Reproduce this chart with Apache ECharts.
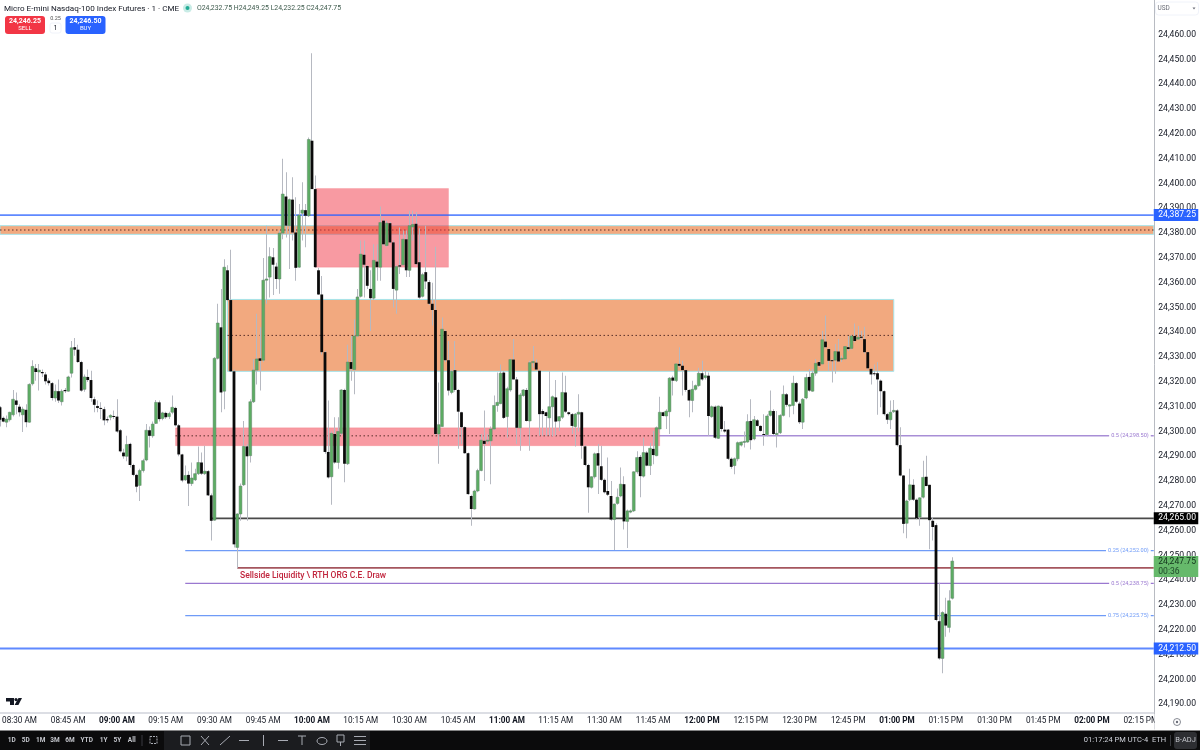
<!DOCTYPE html>
<html>
<head>
<meta charset="utf-8">
<title>Micro E-mini Nasdaq-100 Index Futures</title>
<style>html,body{margin:0;padding:0;background:#fff}#chart{width:1200px;height:750px}</style>
<script src="https://cdn.jsdelivr.net/npm/echarts@6/dist/echarts.min.js"></script>
</head>
<body>
<div id="chart"></div>
<script>
// one row per minute from 08:24 AM: open, close, low, high
const candles = [
[24309.75,24304.75,24302,24310.25],[24305.5,24304,24303.75,24306],[24303.75,24305,24301.75,24306.5],[24304.75,24307.75,24304,24308],
[24306.75,24313,24306,24316.75],[24312.5,24310.75,24307,24315.75],[24310,24307.75,24306,24311],[24306.75,24309,24299.75,24310],
[24308.75,24303.75,24301.75,24311],[24303.75,24319,24303.5,24319.5],[24319.25,24326.25,24318.5,24328.75],[24325.5,24324,24320.5,24327.25],
[24324,24324.75,24316.5,24327.25],[24324,24323.5,24322,24325],[24323,24320.25,24319,24324],[24320.5,24319.5,24318.5,24321.5],
[24319.5,24313.5,24312.5,24320],[24313.5,24316.25,24312,24319],[24316.25,24312.5,24311.5,24321],[24312,24316.25,24310.5,24317],
[24316.75,24316.25,24315.5,24317.5],[24316.25,24322,24316,24322.5],[24323.5,24333.75,24321.75,24336.5],[24334,24333,24330.5,24337.75],
[24333,24328,24327.75,24335],[24328,24316.5,24316,24328.5],[24317,24322,24316,24323],[24322,24320.75,24320,24325],
[24320.75,24313.5,24312,24324.5],[24313,24310.75,24307.75,24314],[24310.25,24309.5,24307.75,24312.5],[24309.5,24309.25,24305,24311.75],
[24309,24304.5,24302.5,24310],[24305,24304.5,24303.5,24306],[24305.75,24306.5,24304.5,24307],[24306.25,24306,24305,24308.5],
[24306,24300,24299.5,24313],[24300.5,24292,24291.5,24301],[24291.5,24290,24289,24293],[24290,24294.75,24288,24298.25],
[24295,24286.5,24285.5,24295.5],[24286.5,24282.5,24282,24287],[24282.5,24277.75,24275.5,24283],[24278.25,24284.25,24272,24285],
[24284.25,24288.25,24283.5,24289],[24288.5,24300.5,24288,24303],[24300.5,24298.25,24293.5,24302],[24298.25,24303,24297.5,24304],
[24303.25,24311.75,24303,24312.75],[24311.75,24305,24304,24312.5],[24305.25,24307.5,24304.5,24308],[24307.5,24305.75,24305,24308],
[24306,24307.25,24305,24308],[24307.75,24309.75,24307,24314.5],[24309.5,24302.5,24302,24310],[24302.5,24290.75,24290,24303],
[24290.75,24280.25,24279.5,24291],[24280.5,24282.25,24280,24286.25],[24282.5,24279,24270,24284],[24279,24281.25,24278,24287.5],
[24280.5,24283,24280,24285],[24283,24287.5,24282.5,24294],[24287.5,24283,24282.5,24291.5],[24283,24284,24282.5,24294.25],
[24284,24274.25,24274,24284.5],[24274.25,24264,24256,24275],[24264.25,24329.5,24264,24330],[24329.5,24343.75,24329,24351.5],
[24342,24315.75,24307.75,24357.5],[24316.25,24366.25,24309,24369.5],[24365,24353,24352.5,24367],[24353,24324.25,24324,24373.25],
[24324.25,24254.5,24253.25,24325],[24253.25,24266.75,24245,24267],[24266.75,24278,24264,24279],[24278.5,24294,24278,24304.25],
[24294,24290,24264,24295],[24290.25,24312,24287.5,24313],[24312,24324.75,24311.5,24329.25],[24324.75,24329.25,24319,24347.5],
[24329.5,24328.5,24316.5,24342],[24328.75,24361,24328,24370],[24361,24361.5,24351.5,24383],[24362.25,24370.5,24354,24374.25],
[24370.25,24367.25,24355,24374],[24366.5,24361.5,24357.5,24368],[24361.5,24380,24355.5,24381],[24380,24395.75,24377.5,24410],
[24394.75,24383,24378.25,24404.5],[24383,24393.5,24365.5,24394],[24393.5,24380.25,24377,24402.5],[24380.25,24366,24360.75,24394.5],
[24366.25,24387.25,24366,24391.75],[24388,24389.25,24377,24400.5],[24389.25,24387,24374.25,24391.75],[24387,24417.75,24386.5,24418.5],
[24417.25,24397.75,24397.75,24452.5],[24397.75,24366.25,24366,24403.25],[24365,24355.25,24355,24366],[24355.25,24332,24331,24362.75],
[24332,24291.75,24291,24332.5],[24291.75,24281.5,24281,24312.5],[24281.75,24299.25,24270.5,24300],[24299,24287.5,24287,24305.75],
[24287.5,24300,24285,24305.75],[24299.25,24316.75,24298.5,24317],[24316.75,24287,24279.5,24317.25],[24287,24328,24286.5,24335],
[24328,24325.25,24320.5,24338.5],[24325,24338.5,24315,24345.25],[24338.5,24354.25,24338,24357.5],[24354.5,24371.5,24354,24377],
[24371.25,24367.25,24354,24377],[24366.75,24358.75,24357.5,24367],[24357.5,24353.75,24340.5,24365],[24353.75,24369,24353,24375.5],
[24368.5,24366.25,24360.75,24375.5],[24366.25,24384.25,24360.75,24390.75],[24385,24375.5,24375,24386],[24375,24384,24374.5,24385],
[24384,24376.25,24376,24384.5],[24376.25,24357.5,24350,24377],[24357,24366.5,24347.5,24367],[24367,24366.5,24363.5,24382.25],
[24367.25,24377.5,24367,24381],[24377.5,24365,24362.25,24381],[24365,24383,24362.25,24389],[24382.5,24383.5,24377,24389],
[24383.75,24367.5,24367,24388.5],[24368.25,24354,24353.5,24382],[24354.5,24363.25,24354,24364],[24364.25,24360.5,24357.5,24383],
[24360.25,24351.5,24351,24361],[24351.5,24349,24342.75,24360],[24349,24299,24298.5,24374.5],[24299,24302.75,24287,24319.75],
[24302,24341.25,24302,24346],[24340.5,24328.75,24328,24341],[24328.75,24316.5,24314.5,24336.5],[24315.75,24324.25,24315,24325],
[24324.75,24316.75,24316,24336.5],[24316.75,24308,24293,24317],[24307.75,24301.75,24295,24308],[24301.75,24291.25,24291,24302],
[24291.25,24274.75,24274.5,24291.5],[24274,24268.75,24262,24274.5],[24268.75,24276,24268.5,24276.5],[24276,24284.25,24275.5,24285],
[24284.25,24296.5,24284,24299],[24296.25,24295,24280,24308.5],[24296.25,24296.5,24295,24299],[24296.25,24301,24278.75,24302],
[24301,24310.5,24300.5,24314.5],[24310.5,24311.75,24308,24323.75],[24311.25,24323.5,24311,24327],[24323.75,24305.5,24305,24324.5],
[24306,24317.25,24297.5,24318],[24316.75,24329,24316,24329.5],[24329,24321,24321,24337.25],[24321,24301.5,24295,24322],
[24301.5,24314.75,24292.25,24315.5],[24314.5,24316.75,24314,24317],[24316.75,24304.25,24304,24317.5],[24304.25,24327.75,24292.25,24328.5],
[24327.75,24328.25,24325.75,24334.5],[24327.75,24325,24324.5,24329],[24324.5,24307,24298.25,24325],[24308.25,24307,24298.25,24309],
[24307.75,24306.25,24298.25,24308],[24305.5,24310,24298.25,24324.25],[24310,24314,24298,24314.5],[24313.75,24304,24298.25,24320.75],
[24304.25,24306,24300.25,24306.25],[24305.75,24315.75,24305,24323.75],[24315.75,24308,24307.5,24322.5],[24307.75,24307,24306.5,24308],
[24307,24302.25,24299,24307.5],[24302,24307,24294,24307.5],[24307,24307.75,24300,24315],[24307.75,24294.25,24289,24308],
[24294,24286.5,24286,24294.5],[24286.5,24277.5,24267.25,24287],[24277.5,24281.75,24277,24282],[24281.75,24291,24281,24291.5],
[24291.25,24286.25,24274.75,24295],[24286,24280.5,24280,24294.25],[24280.5,24275.5,24275,24281],[24276,24274.5,24274,24289.5],
[24274,24264.5,24264,24280],[24264.5,24270.75,24252.25,24271],[24271,24273.5,24270.5,24277],[24274,24278.75,24273.5,24285.5],
[24278.75,24263.75,24260.5,24282],[24263.75,24268,24253,24268.5],[24267.5,24268,24267,24268.5],[24268,24283.75,24267.5,24284],
[24283.75,24289.5,24283,24292],[24289.75,24282,24273.5,24290.5],[24282,24291.5,24281.5,24297.5],[24291.5,24286.25,24286,24292],
[24286.25,24293.25,24282.5,24295.5],[24293,24290.5,24286.75,24300.25],[24290.25,24301.5,24290,24302],[24301,24307.75,24299.5,24314],
[24307.75,24306.25,24306,24308],[24306.25,24308.25,24301,24309],[24308,24321.5,24299,24322],[24321.75,24320.5,24314.5,24322.5],
[24320.5,24327.25,24320,24327.5],[24327.25,24326.5,24326,24334],[24326.5,24324.75,24314.5,24328.5],[24324.75,24316.75,24316,24325],
[24316.75,24312.5,24305.75,24317],[24312.5,24317,24307.75,24320.5],[24317,24318.5,24316.5,24319],[24318.5,24323.5,24318,24325.75],
[24323.5,24321,24320.5,24328.5],[24321.75,24322.5,24321,24324.75],[24322.5,24306.25,24298.25,24323.75],[24306,24310,24305.5,24310.5],
[24310,24297.5,24297,24310.5],[24297.25,24310.25,24297,24310.5],[24310,24301,24300,24310.5],[24300.75,24300,24299.5,24304.25],
[24300.75,24289,24288.5,24301],[24289,24285.75,24285,24289.5],[24286.25,24289,24282.75,24289.5],[24289,24295.5,24288,24296],
[24294.5,24295.75,24294,24296],[24295.75,24296,24293.5,24300],[24295.75,24304,24295.5,24307],[24304.25,24296.5,24292.75,24313],
[24297,24304.75,24296.5,24306.25],[24304.5,24302.25,24302,24305],[24302.25,24300.25,24300,24302.5],[24299,24298.75,24294.25,24307],
[24298.75,24306.25,24298,24307],[24306.5,24308.25,24306,24316.5],[24308.25,24299,24298.5,24309],[24298.75,24299.25,24293.5,24308.25],
[24299.5,24306.5,24299,24307],[24306.5,24315,24306,24318.5],[24315,24310.75,24310,24315.5],[24310.25,24310.75,24305.75,24311],
[24310.5,24319.5,24307,24322.5],[24319.5,24312,24311.5,24320],[24311.25,24303.75,24303,24312],[24303.75,24313,24301,24313.5],
[24313.5,24321.75,24313,24323.25],[24322,24316.5,24316,24325.25],[24316.25,24323.5,24316,24325.25],[24323.5,24327.5,24322.5,24329.25],
[24328,24326.5,24326,24328.5],[24327.25,24337,24327,24340.5],[24336.25,24334,24333.5,24346.75],[24333.25,24328.5,24324.5,24333.5],
[24328.75,24328.5,24319.75,24329],[24328.75,24332.25,24323.25,24335.25],[24332.25,24328.25,24328,24337.25],[24329.25,24329.5,24328,24330.5],
[24329.25,24334.25,24329,24334.5],[24334,24333.25,24332.5,24338.5],[24333.5,24338.5,24333,24339],[24338.5,24336.5,24336,24343.5],
[24337.25,24338,24337,24342.5],[24338.25,24337.75,24337,24340.5],[24337.25,24332,24331.5,24342.25],[24332,24325.5,24325,24332],
[24325.25,24323,24319,24325.5],[24323.5,24323.25,24322.5,24327],[24323.5,24321,24306.75,24328],[24320.5,24316.25,24309.75,24321],
[24316.25,24307,24306.5,24316.5],[24307,24304.75,24303,24307.5],[24304.75,24307.75,24301,24312.5],[24308,24308.5,24307.5,24312.75],
[24308.5,24294.5,24294,24309],[24294.5,24282.25,24282,24301.75],[24282.25,24262.75,24259,24282.5],[24263,24272,24257,24272.5],
[24272.5,24278.5,24272,24285],[24278.5,24272.5,24272,24280.75],[24272.5,24265,24264.5,24273],[24265.5,24273.25,24262,24273.5],
[24273.5,24281.5,24273,24288.25],[24281.75,24278,24278,24290.25],[24278.5,24264.25,24252.5,24278.5],[24264,24261.5,24256,24265.5],
[24262.25,24224,24223.5,24263],[24223.5,24208.5,24208,24239],[24208.5,24227,24202.5,24227.5],[24226.5,24221.75,24217.25,24233],
[24221,24231.75,24219,24236],[24232.75,24247.75,24232.25,24249.25]
];
const priceMin = 24180, priceMax = 24480, priceStep = 10;
// shaded boxes: first time, last time, low, high, dotted mid level
const zoneBig = ["09:34 AM", "12:59 PM", 24324.25, 24353.25, 24338.75];
const zoneBand = ["08:24 AM", "02:19 PM", 24379.5, 24383, 24381.25];
const zoneSupply = ["10:01 AM", "10:42 AM", 24366.25, 24398, null];
const zoneGap = ["09:18 AM", "11:47 AM", 24294.25, 24301.5, 24298.25];
// horizontal levels: first time, price
const levelTop = ["08:24 AM", 24387.25];
const levelMid = ["11:47 AM", 24298.25];
const levelOpen = ["09:29 AM", 24265];
const levelQ1 = ["09:21 AM", 24252];
const levelDraw = ["09:37 AM", 24245];
const levelHalf = ["09:21 AM", 24238.75];
const levelQ3 = ["09:21 AM", 24225.75];
const levelLow = ["08:24 AM", 24212.5];
const fibTexts = [["0.5 (24,298.50)", 24298.25], ["0.25 (24,252.00)", 24252], ["0.5 (24,238.75)", 24238.75], ["0.75 (24,225.75)", 24225.75]];
const priceTags = [["24,387.25", 24387.25], ["24,265.00", 24265], ["24,212.50", 24212.5]];
const lastPrice = ["24,247.75", "00:36", 24247.75];
const noteText = ["09:38 AM", 24241.75, "Sellside Liquidity \\ RTH ORG C.E. Draw"];
const rangeButtons = ["1D", "5D", "1M", "3M", "6M", "YTD", "1Y", "5Y", "All"];

const FONT = "Roboto, 'Liberation Sans', sans-serif";
const GREEN = "#5cad63", BLUE = "#2962ff", PURPLE = "#7e57c2", SOFT_BLUE = "#6f9bf7";
const zoneStyles = [
  { fill: "#f2a97f", stroke: "#a5e4ea" },
  { fill: "#f2a97f", stroke: "#a5e4ea" },
  { fill: "rgba(242,54,69,0.5)", stroke: "rgba(242,54,69,0.15)" },
  { fill: "rgba(242,54,69,0.5)", stroke: "rgba(242,54,69,0.15)" }
];
const levelStyles = [
  { stroke: BLUE, lineWidth: 1.6, opacity: 0.75 },
  { stroke: PURPLE, lineWidth: 1, opacity: 1 },
  { stroke: "#4a4a4a", lineWidth: 1.8, opacity: 1 },
  { stroke: SOFT_BLUE, lineWidth: 1.2, opacity: 1 },
  { stroke: "#a5565e", lineWidth: 1.8, opacity: 1 },
  { stroke: "#9a78d0", lineWidth: 1.2, opacity: 1 },
  { stroke: SOFT_BLUE, lineWidth: 1.4, opacity: 1 },
  { stroke: BLUE, lineWidth: 2, opacity: 0.75 }
];

function clockLabel(minutes) {
  const h = Math.floor(minutes / 60), m = minutes % 60;
  const h12 = h > 12 ? h - 12 : h;
  return `${String(h12).padStart(2, "0")}:${String(m).padStart(2, "0")} ${h >= 12 ? "PM" : "AM"}`;
}
const times = [];
for (let t = 8 * 60 + 24; t <= 14 * 60 + 19; t++) times.push(clockLabel(t));
const zones = [zoneBig, zoneBand, zoneSupply, zoneGap];
const levels = [levelTop, levelMid, levelOpen, levelQ1, levelDraw, levelHalf, levelQ3, levelLow];
const lastIndex = times.length - 1;

function renderCandle(params, api) {
  const x = api.value(0), o = api.value(1), c = api.value(2);
  const top = api.coord([x, Math.max(o, c)]), bottom = api.coord([x, Math.min(o, c)]);
  const high = api.coord([x, api.value(4)]), low = api.coord([x, api.value(3)]);
  const up = c >= o;
  const bodyH = Math.max(bottom[1] - top[1], 1);
  return {
    type: "group",
    children: [
      { type: "rect", shape: { x: Math.round(top[0] - 0.5), y: high[1], width: 1, height: low[1] - high[1] }, style: { fill: "#b6b9c1" } },
      { type: "rect", shape: { x: top[0] - 1.4, y: top[1], width: 2.8, height: bodyH },
        style: up ? { fill: GREEN, stroke: "#5e8068", lineWidth: 0.5 } : { fill: "#0a0a0a" } }
    ]
  };
}

function renderZone(params, api) {
  const z = zones[params.dataIndex], s = zoneStyles[params.dataIndex];
  const a = api.coord([times.indexOf(z[0]), z[3]]), b = api.coord([times.indexOf(z[1]), z[2]]);
  const children = [{ type: "rect", shape: { x: a[0], y: a[1], width: b[0] - a[0], height: b[1] - a[1] },
    style: { fill: s.fill, stroke: s.stroke, lineWidth: 1 } }];
  if (z[4] !== null) {
    const m = api.coord([0, z[4]]);
    children.push({ type: "line", shape: { x1: a[0], y1: m[1], x2: b[0], y2: m[1] },
      style: { stroke: "#5a2f2a", lineWidth: 1, lineDash: [1.5, 2.5] } });
  }
  return { type: "group", children };
}

function renderLevel(params, api) {
  const l = levels[params.dataIndex];
  const a = api.coord([times.indexOf(l[0]), l[1]]), b = api.coord([lastIndex, l[1]]);
  return { type: "line", shape: { x1: a[0], y1: a[1], x2: b[0], y2: b[1] }, style: levelStyles[params.dataIndex] };
}

function renderFibText(params, api) {
  const f = fibTexts[params.dataIndex];
  const p = api.coord([lastIndex, f[1]]);
  const color = f[0].startsWith("0.5 ") ? "#9a78d0" : SOFT_BLUE;
  return { type: "text", style: { x: p[0] - 3, y: p[1], text: f[0], align: "right", verticalAlign: "middle", fill: color,
    font: `5.6px ${FONT}`, backgroundColor: "#fff", padding: [1, 2] } };
}

function renderTag(params, api) {
  const t = priceTags[params.dataIndex];
  const p = api.coord([lastIndex, t[1]]);
  const bg = t[0] === "24,265.00" ? "#000" : BLUE;
  return { type: "group", children: [
    { type: "rect", shape: { x: p[0], y: p[1] - 6, width: 44.5, height: 12 }, style: { fill: bg } },
    { type: "text", style: { x: p[0] + 4.5, y: p[1], text: t[0], fill: "#fff", verticalAlign: "middle", font: `8.6px ${FONT}` } }
  ] };
}

function renderLast(params, api) {
  const p = api.coord([lastIndex, lastPrice[2]]);
  return { type: "group", children: [
    { type: "rect", shape: { x: p[0], y: p[1] - 5, width: 44.5, height: 21 }, style: { fill: "#66b96b" } },
    { type: "text", style: { x: p[0] + 4.5, y: p[1] + 0.5, text: lastPrice[0], fill: "#10301a", verticalAlign: "middle", font: `8.6px ${FONT}` } },
    { type: "text", style: { x: p[0] + 4.5, y: p[1] + 10.5, text: lastPrice[1], fill: "#1f4a2a", verticalAlign: "middle", font: `8.6px ${FONT}` } }
  ] };
}

function renderNote(params, api) {
  const p = api.coord([times.indexOf(noteText[0]), noteText[1]]);
  return { type: "text", style: { x: p[0] - 0.5, y: p[1], text: noteText[2], fill: "#c1253d", verticalAlign: "middle", font: `500 8.5px ${FONT}` } };
}

function txt(x, y, text, fill, font, align) {
  return { type: "text", z: 30, silent: true, style: { x, y, text, fill, font: `${font} ${FONT}`, align: align || "left", verticalAlign: "middle" } };
}
function box(x, y, w, h, fill, r, stroke) {
  return { type: "rect", z: 29, silent: true, shape: { x, y, width: w, height: h, r: r || 0 }, style: { fill, stroke: stroke || null, lineWidth: 1 } };
}
function seg(x1, y1, x2, y2, stroke) {
  return { type: "line", z: 30, silent: true, shape: { x1, y1, x2, y2 }, style: { stroke: stroke || "#a8abb3", lineWidth: 1 } };
}

const lastCandle = candles[candles.length - 1];
const money = v => v.toLocaleString("en-US", { minimumFractionDigits: 2, maximumFractionDigits: 2 });
const ohlcText = `O${money(lastCandle[0])} H${money(lastCandle[3])} L${money(lastCandle[2])} C${money(lastCandle[1])}`;
const rangeX = [11.7, 25.7, 40.7, 55, 70, 86.7, 103.7, 117.3, 131.7];

const chrome = [
  // header
  txt(4, 8.5, "Micro E-mini Nasdaq-100 Index Futures · 1 · CME", "#131722", "8.1px"),
  { type: "circle", z: 29, silent: true, shape: { cx: 187.5, cy: 8, r: 4.5 }, style: { fill: "#c9ece6" } },
  { type: "circle", z: 30, silent: true, shape: { cx: 187.5, cy: 8, r: 2 }, style: { fill: "#22ab94" } },
  txt(197, 8.5, ohlcText, "#3d5a4c", "6.9px"),
  box(5, 16, 40, 18, "#f23645", 3),
  txt(25, 21, "24,246.25", "#fff", "bold 7px", "center"),
  txt(25, 28.5, "SELL", "#fff", "6px", "center"),
  box(50, 23, 11, 10, "#fff", 2, "#f0f3fa"),
  txt(55.5, 19, "0.25", "#555", "5.5px", "center"),
  txt(55.5, 28, "1", "#131722", "7px", "center"),
  box(65.5, 16, 40, 18, BLUE, 3),
  txt(85.5, 21, "24,246.50", "#fff", "bold 7px", "center"),
  txt(85.5, 28.5, "BUY", "#fff", "6px", "center"),
  // currency button
  box(1155.5, 2, 43, 13, "#fff", 3, "#f0f3fa"),
  txt(1157.5, 8.5, "USD", "#6a6d78", "6.5px"),
  { type: "polygon", z: 30, silent: true, shape: { points: [[1192.5, 7.5], [1195.5, 7.5], [1194, 9.5]] }, style: { fill: "#6a6d78" } },
  // logo
  { type: "polygon", z: 30, silent: true, shape: { points: [[6, 698], [14, 698], [14, 705], [10, 705], [10, 701.5], [6, 701.5]] }, style: { fill: "#131722" } },
  { type: "circle", z: 30, silent: true, shape: { cx: 16, cy: 699.6, r: 1.6 }, style: { fill: "#131722" } },
  { type: "polygon", z: 30, silent: true, shape: { points: [[18.5, 698], [22, 698], [18.4, 705], [14.6, 705]] }, style: { fill: "#131722" } },
  // corner of the axes
  box(1154.5, 714, 45.5, 16, "#fff"),
  { type: "circle", z: 30, silent: true, shape: { cx: 1177, cy: 722, r: 3.5 }, style: { fill: "#fff", stroke: "#6a6d78", lineWidth: 0.8 } },
  { type: "circle", z: 30, silent: true, shape: { cx: 1177, cy: 722, r: 1.2 }, style: { fill: "#6a6d78" } },
  // bottom bar
  box(0, 730.5, 1200, 19.5, "#0b0b0c"),
  box(164, 731, 206, 19, "#1b1c1f"),
  seg(142, 735, 142, 746, "#3a3b40"),
  seg(1170.5, 735, 1170.5, 746, "#3a3b40"),
  box(1174, 732, 23, 17, "#2d2e32", 3),
  txt(1116, 740.5, "01:17:24 PM UTC-4", "#d1d4dc", "7.5px", "center"),
  txt(1159, 740.5, "ETH", "#d1d4dc", "7.5px", "center"),
  txt(1185.5, 740.5, "B-ADJ", "#c4c6cc", "7.5px", "center"),
  // drawing tools
  { type: "rect", z: 30, silent: true, shape: { x: 150, y: 736.5, width: 7, height: 7 }, style: { fill: null, stroke: "#a8abb3", lineDash: [2, 1] } },
  box(181, 736, 9, 9, "rgba(0,0,0,0)", 0, "#a8abb3"),
  seg(201, 736, 209, 745),
  seg(209, 736, 201, 745),
  seg(220, 745, 230, 736),
  seg(239, 740.5, 249, 740.5),
  seg(263.5, 735, 263.5, 746),
  seg(278, 740.5, 288, 740.5),
  seg(298, 736, 306, 736),
  seg(302, 736, 302, 745),
  { type: "ellipse", z: 30, silent: true, shape: { cx: 322, cy: 741, rx: 5, ry: 3.5 }, style: { fill: null, stroke: "#a8abb3" } },
  box(337, 735, 7, 7, "rgba(0,0,0,0)", 0, "#a8abb3"),
  seg(340.5, 742, 340.5, 746),
  seg(354, 736.5, 366, 736.5),
  seg(354, 740.5, 366, 740.5),
  seg(354, 744.5, 366, 744.5)
];
rangeButtons.forEach((label, i) => chrome.push(txt(rangeX[i], 740.5, label, "#c4c6cc", "bold 6.5px", "center")));

const chart = echarts.init(document.getElementById("chart"), null, { renderer: "canvas" });
chart.setOption({
  animation: false,
  backgroundColor: "#fff",
  textStyle: { fontFamily: FONT },
  grid: { left: 0, top: -14.9, width: 1153.75, height: 744, containLabel: false, outerBoundsMode: "none" },
  xAxis: {
    type: "category", data: times, boundaryGap: false, offset: -16.1,
    axisLine: { lineStyle: { color: "#d1d4dc", width: 1.5 } },
    axisTick: { show: false }, splitLine: { show: false },
    axisLabel: {
      margin: 4, fontSize: 8.2, color: "#131722", hideOverlap: false,
      interval: (index, value) => Number(value.slice(3, 5)) % 15 === 0,
      formatter: value => value.slice(3, 5) === "00" ? `{hour|${value}}` : value,
      rich: { hour: { fontSize: 8.2, fontWeight: "bold", color: "#131722", fontFamily: FONT } }
    }
  },
  yAxis: {
    type: "value", position: "right", min: priceMin, max: priceMax, interval: priceStep, scale: true,
    axisLine: { show: true, lineStyle: { color: "#b8bbc2", width: 1 } },
    axisTick: { show: false }, splitLine: { show: false },
    axisLabel: {
      margin: 4.5, fontSize: 8.6, color: "#131722",
      formatter: v => (v === priceMin || v >= 24470) ? "" : money(v)
    }
  },
  graphic: { elements: chrome },
  series: [
    { type: "custom", name: "zones", z: 1, silent: true, clip: true, renderItem: renderZone, data: zones.map((z, i) => [i, z[2]]) },
    { type: "custom", name: "levels", z: 2, silent: true, clip: true, renderItem: renderLevel, data: levels.map((l, i) => [i, l[1]]) },
    { type: "custom", name: "candles", z: 3, silent: true, clip: true, renderItem: renderCandle,
      encode: { x: 0, y: [1, 2, 3, 4] }, data: candles.map((c, i) => [i, c[0], c[1], c[2], c[3]]) },
    { type: "custom", name: "fib labels", z: 4, silent: true, clip: false, renderItem: renderFibText, data: fibTexts.map((f, i) => [i, f[1]]) },
    { type: "custom", name: "note", z: 4, silent: true, clip: false, renderItem: renderNote, data: [[0, noteText[1]]] },
    { type: "custom", name: "last price", z: 5, silent: true, clip: false, renderItem: renderLast, data: [[0, lastPrice[2]]] },
    { type: "custom", name: "price tags", z: 6, silent: true, clip: false, renderItem: renderTag, data: priceTags.map((t, i) => [i, t[1]]) }
  ]
});
</script>
</body>
</html>
